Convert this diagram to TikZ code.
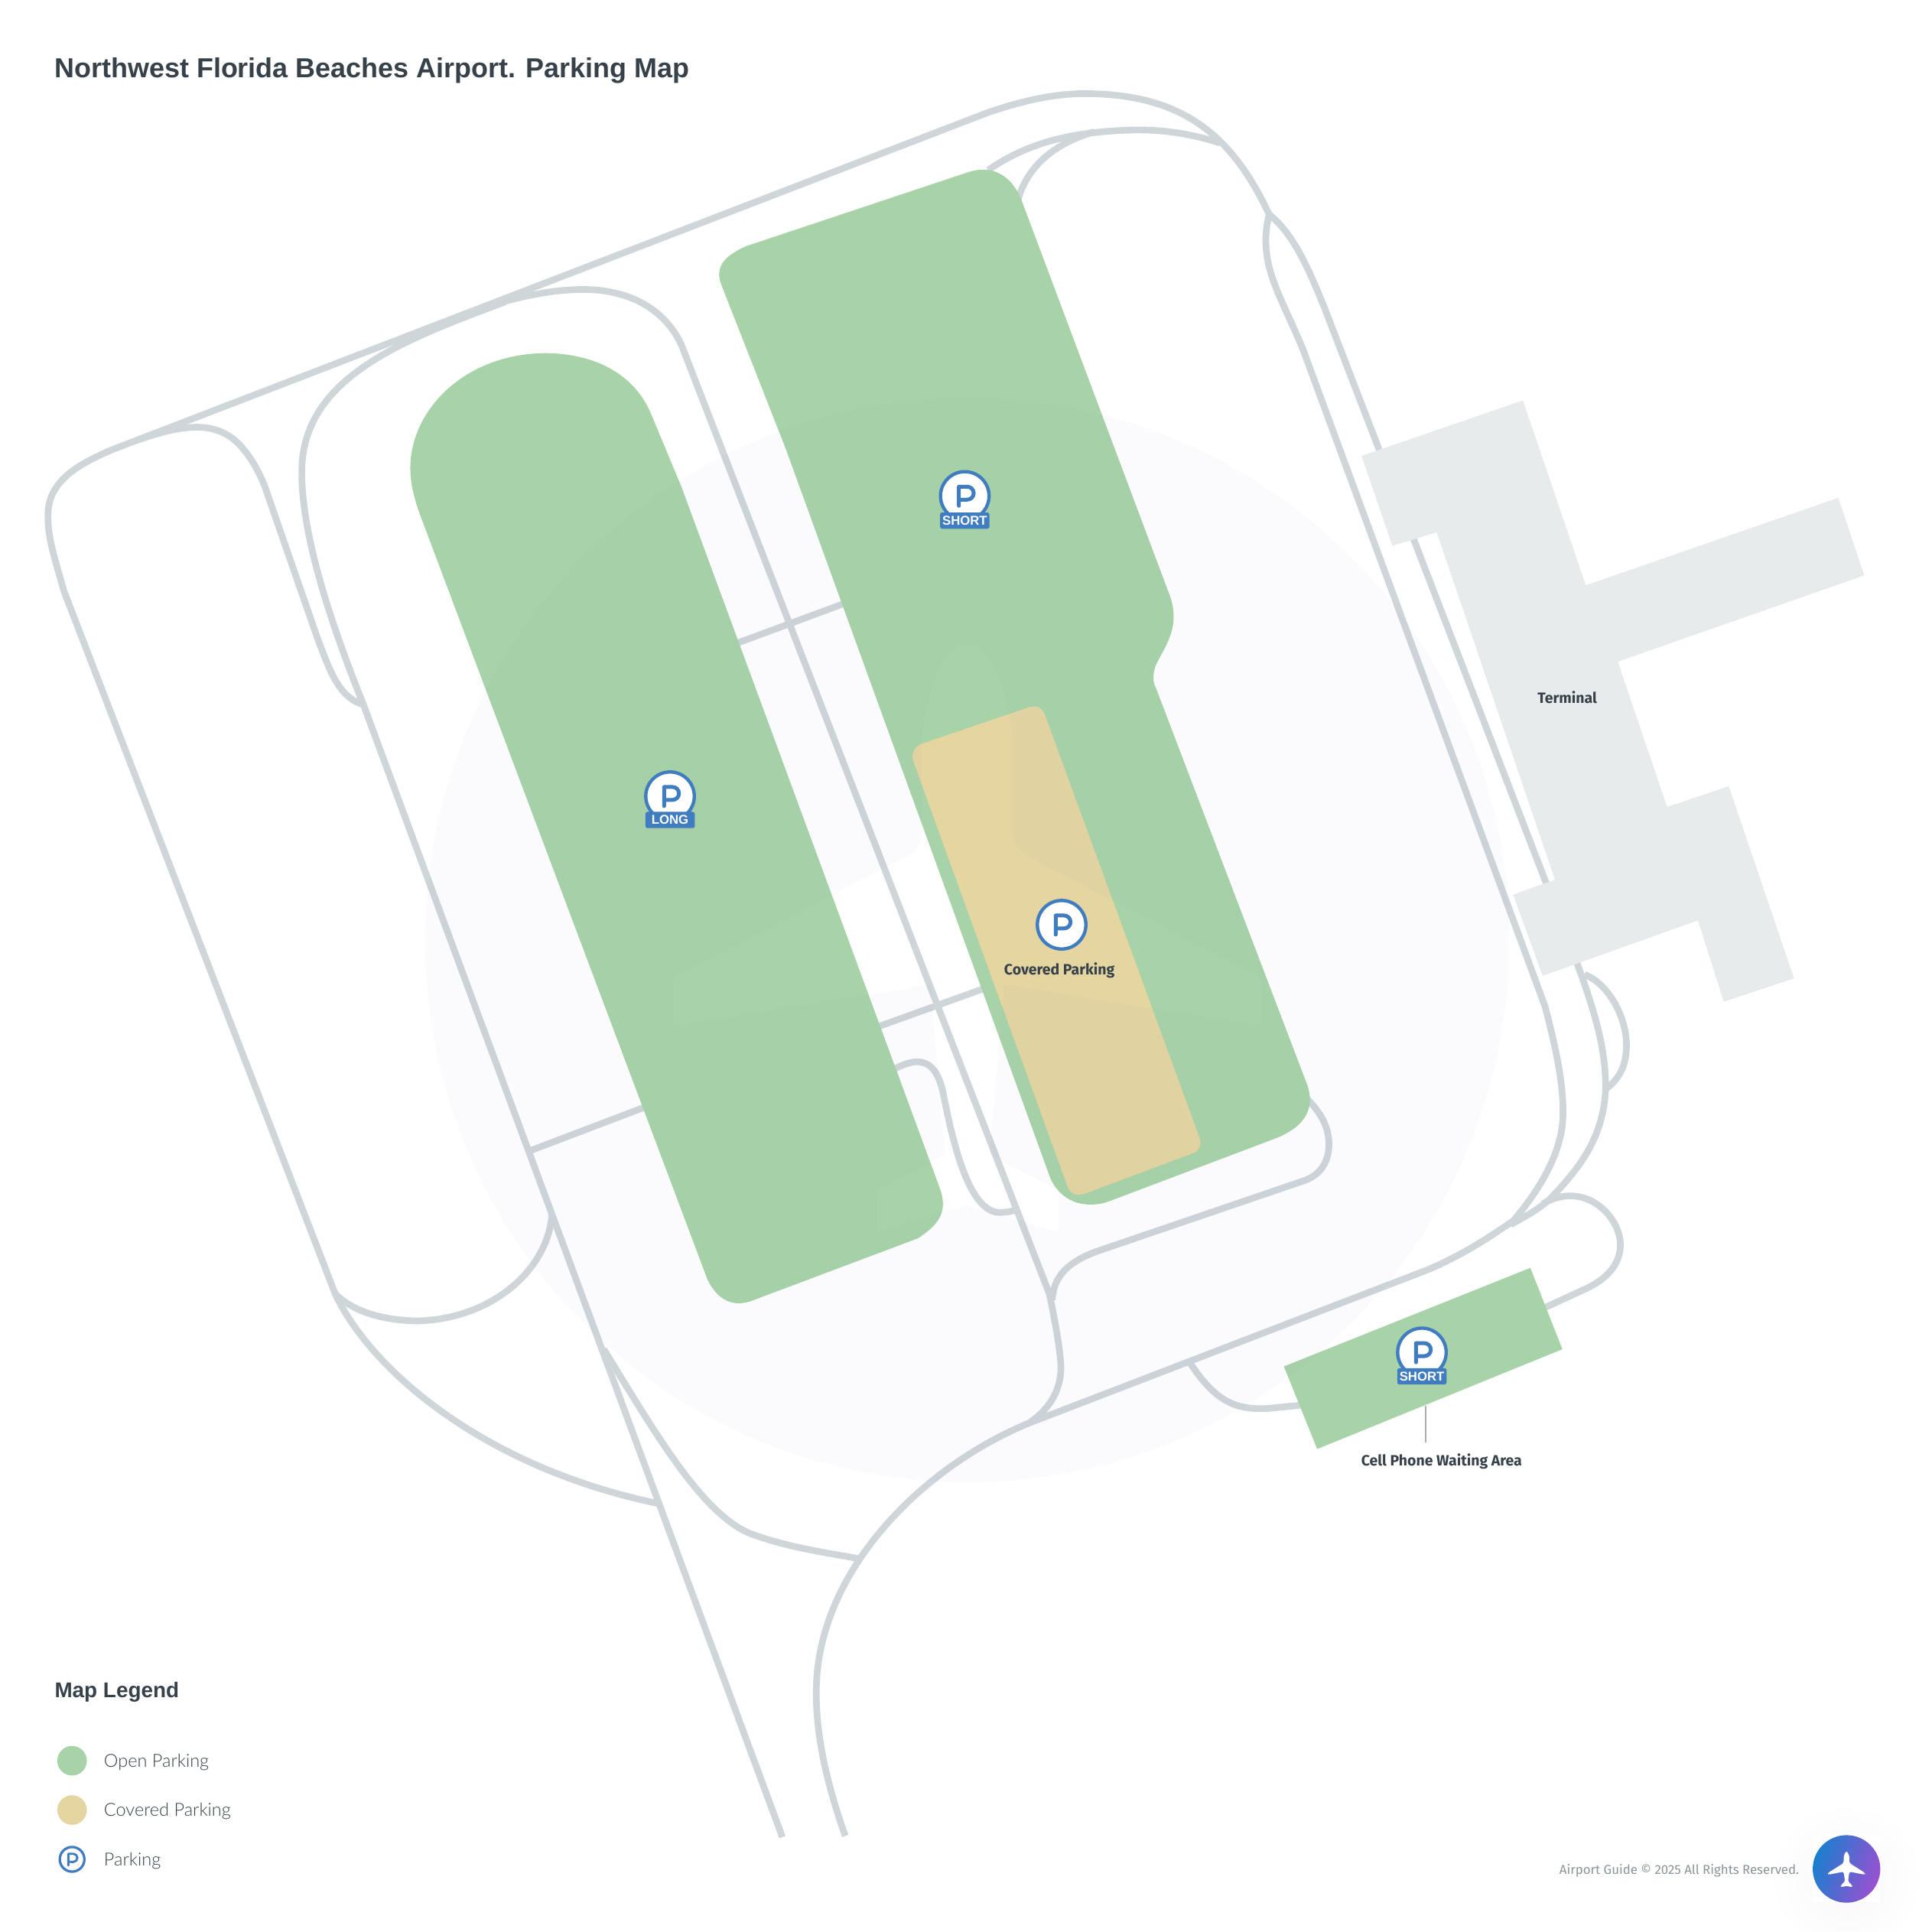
\documentclass[tikz,border=0pt]{standalone}
\usepackage{fontspec}
\setmainfont{Fira Sans}
\newfontfamily\headfont{Liberation Sans}
\newfontfamily\legendfont{Lato Light}
\definecolor{roadgray}{HTML}{CFD6D9}
\definecolor{opengreen}{HTML}{A8D3A8}
\definecolor{covertan}{HTML}{E4D5A1}
\definecolor{termgray}{HTML}{E8EBEC}
\definecolor{halotint}{HTML}{0030D0}
\definecolor{signblue}{HTML}{3F7CC0}
\definecolor{inkdark}{HTML}{36414A}
\definecolor{inkfoot}{HTML}{8A9499}
\definecolor{logoblue}{HTML}{1A7ECF}
\definecolor{logopurple}{HTML}{9A50D0}
\tikzset{
 road/.style={draw=roadgray, line width=2.7pt, line join=round},
 maplabel/.style={font=\bfseries\fontsize{6.05}{8}\selectfont, text=inkdark, inner sep=0},
 legendtext/.style={font=\legendfont\fontsize{7.3}{10}\selectfont, text=inkdark, anchor=west, inner sep=0},
 signring/.style={draw=signblue, fill=white, line width=1.35pt},
 signglyph/.style={draw=signblue, line width=1.55pt, line cap=round, line join=round},
 signtag/.style={fill=signblue, rounded corners=.6pt, minimum width=20pt, minimum height=6.6pt, inner sep=0,
   text=white, font=\headfont\bfseries\fontsize{5.2}{6}\selectfont},
}
\begin{document}
\begin{tikzpicture}[x=.5pt,y=-.5pt]
\useasboundingbox (0,0) rectangle (1568,1568);
\fill[white] (0,0) rectangle (1568,1568);

% roads
\draw[road] (1030,174) .. controls (1000,110) and (960,76) .. (880,76) .. controls (850,76) and (820,85) .. (800,92) -- (91,365)
 .. controls (60,378) and (40,392) .. (39,416) .. controls (38,435) and (45,455) .. (52,480) -- (272,1050)
 .. controls (300,1110) and (390,1190) .. (533,1220);
\draw[road] (112,357) .. controls (150,344) and (178,340) .. (198,365) .. controls (206,375) and (211,385) .. (215,395) -- (258,519) .. controls (268,545) and (275,566) .. (295,572);
\draw[road] (410,245) .. controls (330,275) and (247,305) .. (245,380) .. controls (244,425) and (262,490) .. (295,572) -- (635,1491);
\draw[road] (370,258) .. controls (420,238) and (470,230) .. (500,238) .. controls (530,245) and (548,265) .. (555,285) -- (851.6,1050)
 .. controls (857,1075) and (861,1100) .. (861,1110) .. controls (861,1130) and (850,1145) .. (835,1155);
\draw[road] (272,1050) .. controls (290,1068) and (320,1072) .. (340,1072) .. controls (400,1070) and (445,1030) .. (448,985);
\draw[road] (590,525) -- (690,488);
\draw[road] (430,934) -- (530,896);
\draw[road] (705,836) -- (805,800);
\draw[road] (720,870) -- (725,868) .. controls (742,859) and (758,856) .. (765,885) .. controls (772,920) and (785,985) .. (812,984) .. controls (817,984) and (822,983) .. (827,981);
\draw[road] (1052,883) -- (1060,891) .. controls (1072,903) and (1079,915) .. (1078.5,930) .. controls (1078,945) and (1070,954) .. (1059,958) -- (889,1016)
 .. controls (868,1024) and (855,1035) .. (854,1055);
\draw[road] (490,1095) .. controls (530,1160) and (570,1230) .. (610,1245) .. controls (640,1256) and (670,1260) .. (697,1265);
\draw[road] (686,1490) .. controls (670,1445) and (660,1400) .. (663,1360) .. controls (670,1270) and (750,1190) .. (835,1155) -- (1160,1030)
 .. controls (1190,1017) and (1210,1003) .. (1228,991);
\draw[road] (1228,991) .. controls (1250,965) and (1268,935) .. (1268.5,905) .. controls (1269,878) and (1262,848) .. (1254,817)
 -- (1058,285) .. controls (1040,240) and (1020,215) .. (1030,174);
\draw[road] (1030,174) .. controls (1050,190) and (1062,218) .. (1075,250) -- (1280,782) .. controls (1292,815) and (1304,850) .. (1303,885)
 .. controls (1301,925) and (1280,950) .. (1258,973) .. controls (1247,983) and (1236,988) .. (1226,994);
\draw[road] (1286,791) .. controls (1305,798) and (1320,825) .. (1320,848) .. controls (1320,865) and (1314,876) .. (1303,884);
\draw[road] (802,138) .. controls (830,119) and (862,107) .. (920,105.5) .. controls (945,105) and (968,109) .. (990,116);
\draw[road] (826,163) .. controls (832,140) and (850,118) .. (888,107);
\draw[road] (965,1105) .. controls (985,1135) and (1000,1145) .. (1030,1143) -- (1060,1140);
\draw[road] (1250,1063) -- (1289,1045) .. controls (1305,1037) and (1316,1025) .. (1315,1008) .. controls (1313,985) and (1285,958) .. (1252,977);

% lots
\fill[opengreen] (339.5,414) .. controls (335,400) and (333,390) .. (333,380) .. controls (333,332) and (378,287) .. (442.7,286.6) .. controls (485,287) and (515,305) .. (528,335) -- (553,395) -- (763,965)
 .. controls (770,985) and (760,995) .. (745,1005) -- (612,1055) .. controls (595,1062) and (582,1055) .. (574,1038) -- cycle;
\fill[opengreen] (585,230) .. controls (580,215) and (590,207) .. (605,200) -- (785,140) .. controls (805,133) and (822,142) .. (830,165) -- (950,485)
 .. controls (958,510) and (945,525) .. (938,540) .. controls (935,548) and (936,555) .. (938,558) -- (1060,878)
 .. controls (1069,900) and (1058,915) .. (1035,924) -- (900,975) .. controls (880,982) and (860,975) .. (852,955) -- (638,365) -- cycle;
\fill[covertan] (747,604) -- (835,574) .. controls (842,572) and (846,575) .. (848,580) -- (973,922) .. controls (976,930) and (973,934) .. (968,936)
 -- (880,969) .. controls (872,971) and (868,968) .. (866,962) -- (742,620) .. controls (739,613) and (741,607) .. (747,604) -- cycle;
\fill[opengreen] (1042,1109) -- (1242,1029) -- (1268,1095) -- (1069,1176) -- cycle;

% tint with the plane left out
\fill[halotint, opacity=.016, even odd rule] (785,763) circle (440)
 (785,522) .. controls (803,522) and (817,555) .. (822,600) -- (822,676) .. controls (822,684) and (826,690) .. (832,694) -- (1018,790) .. controls (1022,792) and (1024,794) .. (1024,798) -- (1024,833) -- (815,799)
 -- (803,937) -- (859,966) -- (859,1000) -- (785,978) -- (711,1000) -- (711,966) -- (767,937) -- (755,799) -- (546,833) -- (546,798) .. controls (546,794) and (548,792) .. (552,790) -- (738,694) .. controls (744,690) and (748,684) .. (748,676) -- (748,600)
 .. controls (753,555) and (767,522) .. (785,522) -- cycle;

% terminal
\fill[termgray] (1105,370) -- (1236,325) -- (1287,475) -- (1492,404) -- (1513,467) -- (1313,537) -- (1353,655) -- (1403,638) -- (1456,794) -- (1399,813)
 -- (1378,747) -- (1252,792) -- (1228,726) -- (1262,714) -- (1166,432) -- (1130,443) -- cycle;

% parking signs
\foreach \sx/\sy in {783/402.5, 543.8/646.2, 861.6/750.5, 1154/1097.6} {
 \draw[signring] (\sx,\sy) circle (19.7);
 \draw[signglyph] (\sx-4.8,\sy+8) -- (\sx-4.8,\sy-7.5) -- (\sx+2,\sy-7.5) arc[start angle=-90, end angle=90, radius=5.25] -- (\sx-4.8,\sy+3);
}
\node[signtag] (tagshortone) at (783,422.5) {SHORT};
\node[signtag] (taglong) at (543.8,665.5) {LONG};
\node[signtag] (tagshorttwo) at (1154,1117) {SHORT};

% labels
\node[maplabel] (coveredname) at (859.8,787.5) {Covered Parking};
\node[maplabel] (terminalname) at (1272,566) {Terminal};
\node[maplabel] (cellname) at (1170,1186) {Cell Phone Waiting Area};
\coordinate (leadtop) at (1157,1141);
\coordinate (leadend) at (1157,1171);
\draw[draw=inkfoot!75, line width=.5pt] (leadtop) -- (leadend);

% title
\node[anchor=base west, inner sep=0, text=inkdark, font=\headfont\bfseries\fontsize{11.15}{14}\selectfont] (maptitle) at (44,63) {Northwest Florida Beaches Airport. Parking Map};

% legend
\node[anchor=base west, inner sep=0, text=inkdark, font=\headfont\bfseries\fontsize{8.65}{11}\selectfont] (legendhead) at (44,1378) {Map Legend};
\fill[opengreen] (58.5,1429) circle (12);
\fill[covertan] (58.5,1469) circle (12);
\draw[signring, line width=1pt] (58.5,1509) circle (10);
\draw[signglyph, line width=.9pt] (55.5,1514) -- (55.5,1504.5) -- (59.5,1504.5) arc[start angle=-90, end angle=90, radius=3.3] -- (55.5,1511);
\node[legendtext] (legopen) at (84,1430) {Open Parking};
\node[legendtext] (legcovered) at (84,1470) {Covered Parking};
\node[legendtext] (legsign) at (84,1510.5) {Parking};

% footer and logo
\shade[inner color=black!3, outer color=white] (1498.6,1525) circle (62);
\fill[white] (1471,1489) rectangle (1526,1544);
\node[anchor=east, inner sep=0, text=inkfoot, font=\fontsize{5.22}{7}\selectfont] (footnote) at (1460.5,1518) {Airport Guide © 2025 All Rights Reserved.};
\shade[left color=logoblue, right color=logopurple, shading angle=70] (1498.6,1516.8) circle (27.4);
\fill[white, rounded corners=.8pt] (1498.6,1502) -- (1500.9,1506) -- (1500.9,1512) -- (1513.6,1520) -- (1513.6,1521.5) -- (1500.9,1519) -- (1499.8,1527)
 -- (1503.2,1530) -- (1503.2,1531.7) -- (1498.6,1530.5) -- (1494,1531.7) -- (1494,1530) -- (1497.4,1527) -- (1496.3,1519) -- (1483.6,1521.5) -- (1483.6,1520) -- (1496.3,1512) -- (1496.3,1506) -- cycle;
\end{tikzpicture}
\end{document}
